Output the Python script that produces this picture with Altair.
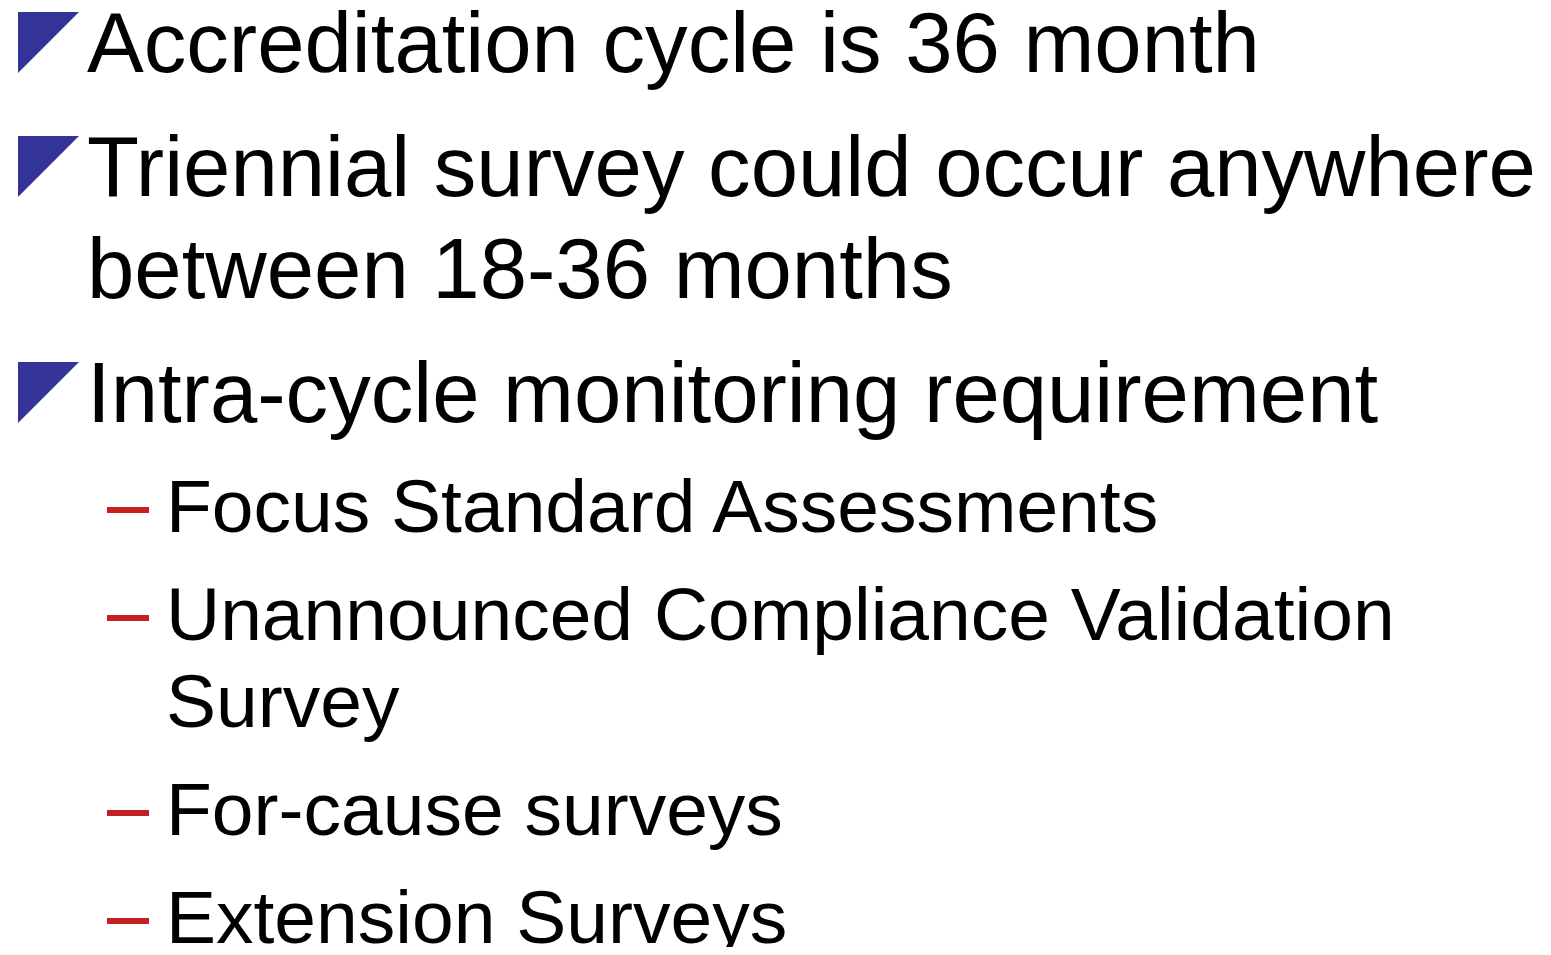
import altair as alt
import pandas as pd

# ---- content ----
main_bullets = [
    ["Accreditation cycle is 36 month"],
    ["Triennial survey could occur anywhere", "between 18-36 months"],
    ["Intra-cycle monitoring requirement"],
]
sub_bullets = [
    ["Focus Standard Assessments"],
    ["Unannounced Compliance Validation", "Survey"],
    ["For-cause surveys"],
    ["Extension Surveys"],
]

# ---- layout (page pixel coordinates) ----
FONT = "Liberation Sans"
MAIN_SIZE, SUB_SIZE = 85.1, 75
MAIN_X, SUB_X = 87, 166
FIRST_BASELINE = 72
MAIN_LINE, MAIN_PARA = 102, 124
MAIN_TO_SUB = 110
SUB_LINE, SUB_PARA = 87, 108
TRI_X0, TRI_SIDE = 18, 61
DASH_X0, DASH_X1, DASH_RISE = 107, 149, 22

text_rows, tri_rows, dash_rows = [], [], []
y = FIRST_BASELINE
first = True
for para in main_bullets:
    for i, line in enumerate(para):
        if not first:
            y += MAIN_LINE if i > 0 else MAIN_PARA
        first = False
        text_rows.append({"text": line, "x": MAIN_X, "y": y, "level": "main"})
        if i == 0:
            tri_rows.append({"x": TRI_X0 + TRI_SIDE / 2, "y": y - TRI_SIDE / 2 + 1})
prev_main = True
for para in sub_bullets:
    for i, line in enumerate(para):
        if prev_main:
            y += MAIN_TO_SUB
            prev_main = False
        else:
            y += SUB_LINE if i > 0 else SUB_PARA
        text_rows.append({"text": line, "x": SUB_X, "y": y, "level": "sub"})
        if i == 0:
            dash_rows.append({"x": DASH_X0, "x2": DASH_X1, "y": y - DASH_RISE})

texts = pd.DataFrame(text_rows)
tris = pd.DataFrame(tri_rows)
dashes = pd.DataFrame(dash_rows)

W, H = 1535, 939
xs = alt.Scale(domain=[8, 8 + W])
ys = alt.Scale(domain=[8, 8 + H], reverse=True)

main_text = alt.Chart(texts[texts.level == "main"]).mark_text(
    align="left", baseline="alphabetic", font=FONT, fontSize=MAIN_SIZE, color="#000000"
).encode(
    x=alt.X("x:Q", scale=xs, axis=None),
    y=alt.Y("y:Q", scale=ys, axis=None),
    text="text:N",
)
sub_text = alt.Chart(texts[texts.level == "sub"]).mark_text(
    align="left", baseline="alphabetic", font=FONT, fontSize=SUB_SIZE, color="#000000"
).encode(
    x=alt.X("x:Q", scale=xs, axis=None),
    y=alt.Y("y:Q", scale=ys, axis=None),
    text="text:N",
)
triangles = alt.Chart(tris).mark_point(
    shape="M -1 -1 L 1 -1 L -1 1 Z", filled=True, size=TRI_SIDE ** 2,
    color="#333399", opacity=1, strokeWidth=0,
).encode(
    x=alt.X("x:Q", scale=xs, axis=None),
    y=alt.Y("y:Q", scale=ys, axis=None),
)
dash_marks = alt.Chart(dashes).mark_rule(color="#C4201F", strokeWidth=6).encode(
    x=alt.X("x:Q", scale=xs, axis=None),
    x2="x2:Q",
    y=alt.Y("y:Q", scale=ys, axis=None),
)

chart = alt.layer(triangles, dash_marks, main_text, sub_text).properties(
    width=W, height=H, padding=0, autosize=alt.AutoSizeParams(type="none"),
    background="#ffffff",
).configure_view(strokeWidth=0)

chart.save("out.html", embed_options={"renderer": "svg", "actions": False})
